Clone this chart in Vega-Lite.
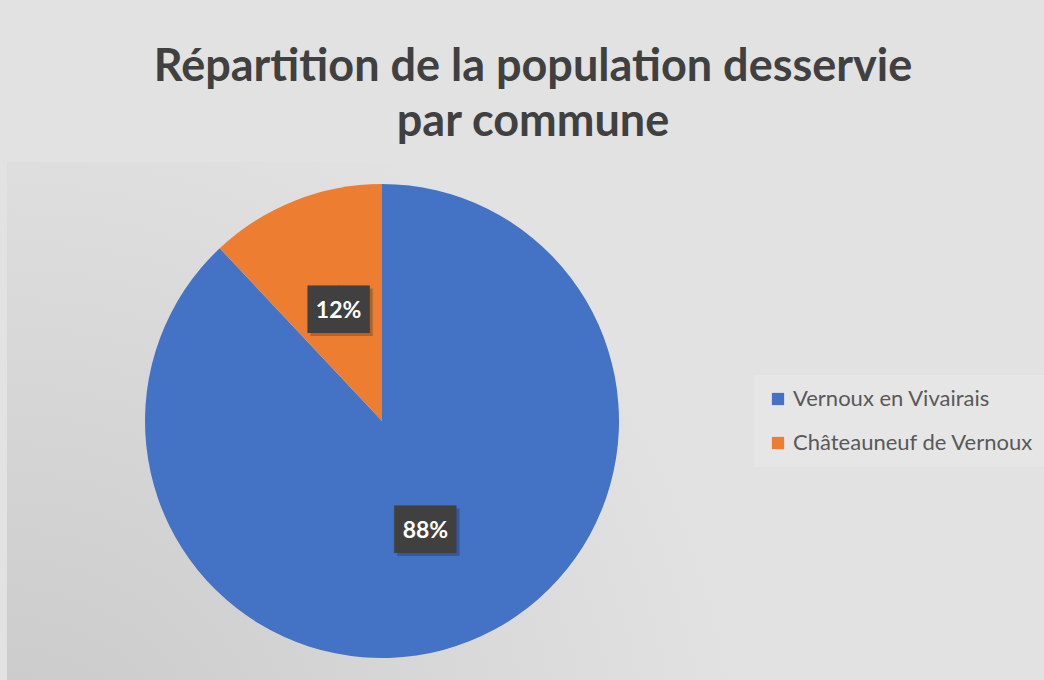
{
  "$schema": "https://vega.github.io/schema/vega-lite/v6.json",
  "width": 750,
  "height": 518,
  "autosize": "none",
  "padding": {"left": 7, "top": 162, "right": 287, "bottom": 0},
  "background": "#e2e2e2",
  "view": {
    "stroke": null,
    "fill": {
      "gradient": "radial",
      "x1": 0, "y1": 1, "x2": 0, "y2": 1, "r1": 0, "r2": 1,
      "stops": [
        {"offset": 0, "color": "#c8c8c8"},
        {"offset": 1, "color": "#e2e2e2"}
      ]
    }
  },
  "title": {
    "text": ["Répartition de la population desservie", "par commune"],
    "font": "Lato",
    "fontSize": 45,
    "fontWeight": "bold",
    "color": "#404040",
    "lineHeight": 55,
    "anchor": "middle",
    "dx": 151,
    "offset": 17
  },
  "data": {
    "values": [
      {"commune": "Vernoux en Vivairais", "share": 0.88},
      {"commune": "Châteauneuf de Vernoux", "share": 0.12}
    ]
  },
  "encoding": {
    "theta": {"field": "share", "type": "quantitative", "stack": true},
    "order": {"field": "share", "type": "quantitative", "sort": "descending"}
  },
  "layer": [
    {
      "mark": {"type": "arc", "outerRadius": 237},
      "encoding": {
        "color": {
          "field": "commune",
          "type": "nominal",
          "scale": {
            "domain": ["Vernoux en Vivairais", "Châteauneuf de Vernoux"],
            "range": ["#4472C4", "#ED7D31"]
          },
          "legend": {
            "title": null,
            "orient": "none",
            "legendX": 747,
            "legendY": 213,
            "fillColor": "#e6e6e6",
            "padding": 13,
            "symbolType": "square",
            "symbolSize": 150,
            "symbolStrokeWidth": 0,
            "labelFont": "Lato",
            "labelFontSize": 22,
            "labelColor": "#595959",
            "labelOffset": 4,
            "rowPadding": 22,
            "labelLimit": 400
          }
        }
      }
    },
    {
      "mark": {"type": "text", "radius": 118, "text": "██", "font": "DejaVu Sans", "fontSize": 40, "color": "#000000", "opacity": 0.22, "dx": 3, "dy": 3},
      "encoding": {"detail": {"field": "commune", "type": "nominal"}}
    },
    {
      "mark": {"type": "text", "radius": 118, "text": "██", "font": "DejaVu Sans", "fontSize": 40, "color": "#404040"},
      "encoding": {"detail": {"field": "commune", "type": "nominal"}}
    },
    {
      "mark": {"type": "text", "radius": 118, "font": "Lato", "fontWeight": "bold", "fontSize": 23, "color": "#ffffff"},
      "encoding": {
        "text": {"field": "share", "type": "quantitative", "format": ".0%"},
        "detail": {"field": "commune", "type": "nominal"}
      }
    }
  ]
}
